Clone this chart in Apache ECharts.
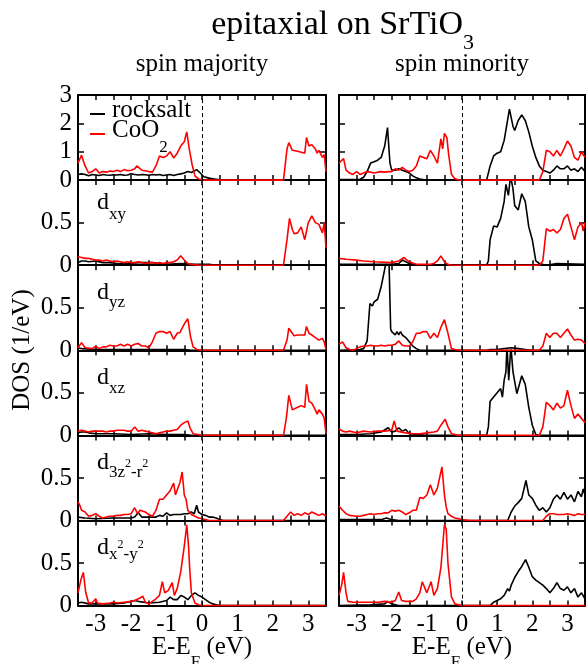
<!DOCTYPE html>
<html>
<head>
<meta charset="utf-8">
<script src="https://cdn.jsdelivr.net/npm/echarts@6/dist/echarts.min.js"></script>
<style>
  html, body { margin: 0; padding: 0; background: #fff; }
  #chart { width: 586px; height: 664px; }
</style>
</head>
<body>
<div id="chart"></div>
<script>
// energy ticks (eV) and DOS tick labels
const energyTicks = [-3, -2, -1, 0, 1, 2, 3]
const dosTicksTotal = [0, 1, 2, 3]
const dosTicksOrbital = [0, 0.5]

// [E-EF, DOS], rocksalt = black, CoO2 = red
// total, spin majority / minority
const rsTotMaj = [[-3.5,0.2],[-3.4,0.22],[-3.3,0.2],[-3.2,0.15],[-3.1,0.2],[-3.0,0.18],[-2.9,0.16],[-2.8,0.2],[-2.7,0.18],[-2.6,0.17],[-2.5,0.19],[-2.4,0.18],[-2.3,0.2],[-2.2,0.17],[-2.1,0.18],[-2.0,0.22],[-1.9,0.2],[-1.8,0.18],[-1.7,0.2],[-1.6,0.19],[-1.5,0.17],[-1.4,0.2],[-1.3,0.18],[-1.2,0.2],[-1.1,0.16],[-1.0,0.18],[-0.9,0.2],[-0.8,0.16],[-0.7,0.2],[-0.6,0.22],[-0.5,0.25],[-0.4,0.3],[-0.3,0.27],[-0.15,0.37],[-0.05,0.25],[0.05,0.12],[0.2,0.07],[0.3,0.05],[0.4,0.03],[0.5,0.01],[0.6,0],[3.5,0]]
const coTotMaj = [[-3.5,0.6],[-3.4,0.88],[-3.3,0.5],[-3.2,0.25],[-3.1,0.3],[-3.0,0.4],[-2.9,0.25],[-2.8,0.3],[-2.7,0.28],[-2.6,0.32],[-2.5,0.3],[-2.4,0.35],[-2.3,0.3],[-2.2,0.37],[-2.1,0.33],[-2.0,0.35],[-1.9,0.4],[-1.84,0.5],[-1.7,0.35],[-1.6,0.33],[-1.5,0.3],[-1.4,0.28],[-1.3,0.5],[-1.2,0.85],[-1.1,0.8],[-1.0,0.85],[-0.9,1.0],[-0.8,0.78],[-0.7,0.95],[-0.6,1.2],[-0.5,1.35],[-0.43,1.7],[-0.36,1.1],[-0.28,0.55],[-0.2,0.15],[-0.1,0.04],[0,0.01],[0.1,0],[2.3,0],[2.4,1.1],[2.45,1.32],[2.55,1.05],[2.6,1.0],[2.7,1.02],[2.8,0.98],[2.9,0.95],[2.95,1.5],[3.02,1.2],[3.1,1.25],[3.2,1.1],[3.25,0.95],[3.3,1.05],[3.4,0.8],[3.45,0.9],[3.5,0.3]]
const rsTotMin = [[-3.5,0.02],[-3.0,0.02],[-2.9,0.03],[-2.8,0.1],[-2.7,0.3],[-2.6,0.6],[-2.5,0.65],[-2.4,0.7],[-2.3,0.8],[-2.2,1.2],[-2.12,1.85],[-2.05,0.6],[-2.0,0.35],[-1.9,0.35],[-1.8,0.4],[-1.7,0.35],[-1.6,0.3],[-1.5,0.25],[-1.4,0.15],[-1.3,0.08],[-1.2,0.04],[-1.1,0.02],[-1.0,0.01],[-0.9,0],[0.7,0],[0.75,0.05],[0.8,0.5],[0.9,0.85],[1.0,0.95],[1.1,1.0],[1.2,1.4],[1.35,2.5],[1.45,1.9],[1.5,1.75],[1.6,2.1],[1.7,2.3],[1.8,2.1],[1.9,1.7],[2.0,1.2],[2.1,0.8],[2.2,0.5],[2.3,0.35],[2.4,0.3],[2.5,0.25],[2.6,0.35],[2.7,0.5],[2.8,0.4],[2.9,0.4],[3.0,0.5],[3.1,0.35],[3.2,0.4],[3.3,0.3],[3.4,0.45],[3.5,0.3]]
const coTotMin = [[-3.5,0.6],[-3.37,0.76],[-3.3,0.35],[-3.2,0.25],[-3.1,0.2],[-3.0,0.3],[-2.9,0.2],[-2.8,0.25],[-2.7,0.3],[-2.6,0.28],[-2.5,0.25],[-2.4,0.28],[-2.3,0.3],[-2.2,0.28],[-2.1,0.3],[-2.0,0.3],[-1.9,0.4],[-1.8,0.35],[-1.7,0.45],[-1.6,0.35],[-1.5,0.3],[-1.4,0.35],[-1.3,0.5],[-1.2,0.85],[-1.1,0.8],[-1.0,0.75],[-0.9,1.05],[-0.8,0.85],[-0.7,0.6],[-0.6,1.45],[-0.55,1.1],[-0.5,1.65],[-0.43,1.5],[-0.38,0.9],[-0.3,0.2],[-0.2,0.05],[-0.1,0.01],[0,0],[2.2,0],[2.3,0.3],[2.4,1.05],[2.5,1.0],[2.6,0.85],[2.7,1.05],[2.8,0.85],[2.9,1.1],[3.0,1.38],[3.1,1.2],[3.2,0.8],[3.3,0.7],[3.4,1.0],[3.5,0.8]]
// d_xy
const rsXyMaj = [[-3.5,0.03],[-3.4,0.05],[-3.3,0.05],[-3.2,0.04],[-3.0,0.05],[-2.8,0.03],[-2.6,0.03],[-2.4,0.02],[-2.2,0.02],[-2.0,0.02],[-1.8,0.03],[-1.6,0.03],[-1.4,0.03],[-1.2,0.02],[-1.0,0.01],[-0.6,0.02],[-0.2,0.01],[0.2,0.01],[0.4,0],[3.5,0]]
const coXyMaj = [[-3.5,0.1],[-3.4,0.09],[-3.3,0.08],[-3.2,0.08],[-3.1,0.07],[-3.0,0.06],[-2.9,0.06],[-2.8,0.05],[-2.7,0.06],[-2.6,0.05],[-2.5,0.04],[-2.4,0.05],[-2.3,0.04],[-2.2,0.03],[-2.1,0.04],[-2.0,0.03],[-1.9,0.03],[-1.8,0.04],[-1.7,0.03],[-1.6,0.02],[-1.5,0.03],[-1.4,0.03],[-1.3,0.02],[-1.2,0.03],[-1.1,0.02],[-1.0,0.03],[-0.9,0.03],[-0.8,0.04],[-0.7,0.06],[-0.6,0.11],[-0.5,0.06],[-0.4,0.02],[-0.3,0.01],[-0.1,0],[2.3,0],[2.4,0.3],[2.47,0.55],[2.55,0.42],[2.6,0.37],[2.7,0.38],[2.8,0.45],[2.9,0.3],[3.0,0.5],[3.1,0.58],[3.2,0.5],[3.3,0.48],[3.4,0.38],[3.45,0.5],[3.5,0.2]]
const rsXyMin = [[-3.5,0.01],[-2.0,0.01],[-1.8,0.02],[-1.7,0.06],[-1.6,0.04],[-1.5,0.02],[-1.4,0.01],[-1.3,0],[0.7,0],[0.75,0.05],[0.8,0.3],[0.9,0.46],[1.0,0.45],[1.1,0.55],[1.2,0.75],[1.25,0.95],[1.32,0.82],[1.38,1.05],[1.45,0.9],[1.5,0.7],[1.6,0.65],[1.7,0.84],[1.8,0.75],[1.9,0.45],[2.0,0.3],[2.1,0.05],[2.2,0.02],[2.4,0],[2.7,0.02],[3.5,0.01]]
const coXyMin = [[-3.5,0.08],[-3.3,0.07],[-3.0,0.06],[-2.8,0.05],[-2.5,0.04],[-2.0,0.03],[-1.8,0.05],[-1.65,0.09],[-1.5,0.04],[-1.3,0.01],[-0.9,0.01],[-0.8,0.02],[-0.7,0.05],[-0.6,0.11],[-0.5,0.04],[-0.4,0.01],[-0.3,0],[2.2,0],[2.3,0.05],[2.4,0.43],[2.5,0.4],[2.6,0.42],[2.7,0.38],[2.8,0.42],[2.9,0.55],[3.0,0.6],[3.1,0.45],[3.2,0.3],[3.3,0.45],[3.4,0.5],[3.45,0.4],[3.5,0.5]]
// d_yz
const rsYzMaj = [[-3.5,0.03],[-3.4,0.02],[-3.0,0.01],[-0.5,0.01],[-0.3,0],[3.5,0]]
const coYzMaj = [[-3.5,0.03],[-3.4,0.09],[-3.3,0.03],[-3.1,0.02],[-3.0,0.05],[-2.9,0.02],[-2.8,0.04],[-2.7,0.04],[-2.6,0.06],[-2.5,0.05],[-2.4,0.05],[-2.3,0.07],[-2.2,0.05],[-2.1,0.07],[-2.0,0.05],[-1.9,0.07],[-1.8,0.08],[-1.7,0.05],[-1.6,0.05],[-1.5,0.03],[-1.4,0.1],[-1.3,0.2],[-1.2,0.22],[-1.1,0.22],[-1.0,0.2],[-0.9,0.22],[-0.8,0.13],[-0.75,0.12],[-0.7,0.2],[-0.62,0.21],[-0.55,0.27],[-0.47,0.33],[-0.4,0.37],[-0.32,0.15],[-0.25,0.04],[-0.15,0.01],[0,0],[2.3,0],[2.4,0.12],[2.45,0.26],[2.55,0.2],[2.6,0.17],[2.7,0.18],[2.8,0.18],[2.9,0.18],[2.95,0.28],[3.02,0.2],[3.1,0.18],[3.2,0.15],[3.3,0.12],[3.4,0.14],[3.45,0.1],[3.5,0.01]]
const rsYzMin = [[-3.5,0],[-2.9,0.01],[-2.8,0.02],[-2.7,0.11],[-2.62,0.55],[-2.55,0.52],[-2.5,0.57],[-2.4,0.6],[-2.3,0.75],[-2.2,0.95],[-2.14,1.1],[-2.08,1.1],[-2.03,0.25],[-2.0,0.22],[-1.9,0.18],[-1.85,0.22],[-1.8,0.18],[-1.75,0.22],[-1.7,0.18],[-1.6,0.15],[-1.5,0.1],[-1.4,0.05],[-1.3,0.02],[-1.2,0],[0.7,0],[0.8,0.01],[1.0,0.01],[1.2,0.02],[1.4,0.03],[1.6,0.02],[1.8,0.01],[2.0,0],[3.5,0]]
const coYzMin = [[-3.5,0.07],[-3.4,0.1],[-3.3,0.03],[-3.2,0.01],[-3.1,0],[-3.0,0.02],[-2.9,0.04],[-2.8,0.05],[-2.7,0.05],[-2.6,0.06],[-2.5,0.05],[-2.4,0.05],[-2.3,0.06],[-2.2,0.05],[-2.1,0.06],[-2.0,0.06],[-1.9,0.07],[-1.8,0.11],[-1.7,0.06],[-1.6,0.05],[-1.5,0.05],[-1.4,0.1],[-1.3,0.2],[-1.2,0.2],[-1.1,0.22],[-1.0,0.22],[-0.9,0.14],[-0.8,0.2],[-0.7,0.15],[-0.6,0.27],[-0.5,0.36],[-0.45,0.37],[-0.4,0.2],[-0.3,0.02],[-0.2,0.01],[0,0],[2.2,0],[2.3,0.05],[2.4,0.2],[2.5,0.15],[2.6,0.2],[2.7,0.2],[2.8,0.15],[2.9,0.2],[3.0,0.25],[3.1,0.18],[3.2,0.12],[3.3,0.13],[3.4,0.12],[3.5,0.08]]
// d_xz
const rsXzMaj = [[-3.5,0.03],[-3.4,0.04],[-3.3,0.04],[-3.2,0.03],[-3.0,0.02],[-2.5,0.02],[-2.0,0.01],[-1.5,0.02],[-1.0,0.01],[-0.5,0.01],[-0.3,0],[3.5,0]]
const coXzMaj = [[-3.5,0.05],[-3.4,0.06],[-3.3,0.05],[-3.2,0.04],[-3.1,0.05],[-3.0,0.05],[-2.9,0.05],[-2.8,0.05],[-2.7,0.04],[-2.6,0.05],[-2.5,0.05],[-2.4,0.06],[-2.3,0.06],[-2.2,0.06],[-2.1,0.05],[-2.0,0.05],[-1.9,0.1],[-1.8,0.05],[-1.7,0.06],[-1.6,0.05],[-1.5,0.04],[-1.4,0.03],[-1.3,0.02],[-1.2,0.03],[-1.1,0.04],[-1.0,0.05],[-0.9,0.05],[-0.8,0.06],[-0.7,0.07],[-0.6,0.12],[-0.5,0.15],[-0.4,0.17],[-0.33,0.08],[-0.25,0.02],[-0.1,0.01],[0,0],[2.3,0],[2.38,0.2],[2.45,0.47],[2.55,0.3],[2.6,0.29],[2.7,0.33],[2.8,0.35],[2.9,0.33],[2.95,0.6],[3.02,0.4],[3.1,0.38],[3.2,0.3],[3.25,0.25],[3.3,0.3],[3.4,0.25],[3.45,0.2],[3.5,0.02]]
const rsXzMin = [[-3.5,0.01],[-3.0,0.01],[-2.6,0.02],[-2.3,0.04],[-2.1,0.09],[-2.0,0.04],[-1.9,0.05],[-1.8,0.09],[-1.7,0.05],[-1.6,0.07],[-1.5,0.02],[-1.3,0.01],[-1.0,0],[0.7,0],[0.75,0.1],[0.8,0.4],[0.9,0.45],[1.0,0.5],[1.1,0.55],[1.15,0.45],[1.2,0.65],[1.25,0.75],[1.28,1.05],[1.33,0.65],[1.39,1.05],[1.45,0.75],[1.56,0.49],[1.7,0.7],[1.8,0.6],[1.9,0.33],[2.0,0.12],[2.1,0.01],[2.2,0],[3.5,0]]
const coXzMin = [[-3.5,0.08],[-3.4,0.05],[-3.3,0.04],[-3.2,0.05],[-3.0,0.03],[-2.8,0.05],[-2.6,0.04],[-2.4,0.05],[-2.2,0.05],[-2.0,0.06],[-1.93,0.17],[-1.85,0.05],[-1.6,0.03],[-1.4,0.02],[-1.2,0.02],[-1.0,0.03],[-0.8,0.04],[-0.7,0.05],[-0.6,0.12],[-0.48,0.19],[-0.4,0.1],[-0.3,0.02],[-0.1,0],[2.2,0],[2.3,0.1],[2.4,0.39],[2.5,0.35],[2.6,0.3],[2.7,0.38],[2.8,0.32],[2.9,0.35],[3.0,0.53],[3.1,0.35],[3.2,0.2],[3.3,0.25],[3.4,0.2],[3.5,0.15]]
// d_3z2-r2
const rsZ2Maj = [[-3.5,0.04],[-3.3,0.03],[-3.0,0.02],[-2.5,0.03],[-2.0,0.03],[-1.9,0.04],[-1.8,0.09],[-1.7,0.04],[-1.5,0.04],[-1.3,0.04],[-1.2,0.06],[-1.1,0.05],[-1.0,0.09],[-0.9,0.06],[-0.8,0.07],[-0.6,0.07],[-0.5,0.08],[-0.4,0.08],[-0.3,0.1],[-0.22,0.08],[-0.15,0.18],[-0.1,0.1],[0,0.07],[0.1,0.06],[0.2,0.04],[0.3,0.04],[0.4,0.03],[0.5,0.01],[0.6,0],[3.5,0]]
const coZ2Maj = [[-3.5,0.22],[-3.45,0.18],[-3.4,0.12],[-3.3,0.1],[-3.2,0.05],[-3.1,0.06],[-3.0,0.08],[-2.9,0.05],[-2.8,0.03],[-2.7,0.04],[-2.6,0.05],[-2.5,0.05],[-2.4,0.06],[-2.3,0.06],[-2.2,0.07],[-2.1,0.07],[-2.0,0.08],[-1.9,0.15],[-1.82,0.08],[-1.75,0.12],[-1.6,0.1],[-1.5,0.07],[-1.4,0.05],[-1.3,0.12],[-1.2,0.25],[-1.1,0.25],[-1.0,0.3],[-0.9,0.35],[-0.8,0.44],[-0.75,0.3],[-0.7,0.32],[-0.62,0.45],[-0.56,0.57],[-0.5,0.3],[-0.45,0.25],[-0.4,0.12],[-0.3,0.07],[-0.2,0.05],[-0.1,0.03],[0,0.02],[0.1,0.01],[0.2,0],[2.3,0],[2.4,0.05],[2.5,0.1],[2.6,0.06],[2.7,0.08],[2.8,0.06],[2.9,0.09],[3.0,0.07],[3.1,0.1],[3.2,0.08],[3.3,0.06],[3.4,0.08],[3.5,0.05]]
const rsZ2Min = [[-3.5,0.01],[-2.3,0.01],[-2.15,0.03],[-2.0,0.01],[-1.8,0],[1.3,0],[1.4,0.1],[1.5,0.17],[1.6,0.21],[1.7,0.26],[1.82,0.47],[1.9,0.3],[2.0,0.26],[2.1,0.18],[2.2,0.12],[2.3,0.15],[2.4,0.1],[2.5,0.15],[2.6,0.25],[2.7,0.3],[2.8,0.25],[2.9,0.33],[3.0,0.25],[3.1,0.3],[3.2,0.22],[3.3,0.34],[3.4,0.28],[3.45,0.37],[3.5,0.3]]
const coZ2Min = [[-3.5,0.17],[-3.4,0.12],[-3.3,0.08],[-3.2,0.06],[-3.0,0.05],[-2.9,0.05],[-2.8,0.06],[-2.7,0.07],[-2.6,0.08],[-2.5,0.07],[-2.4,0.08],[-2.3,0.08],[-2.2,0.09],[-2.1,0.09],[-2.0,0.12],[-1.9,0.11],[-1.8,0.12],[-1.7,0.1],[-1.6,0.07],[-1.5,0.09],[-1.4,0.12],[-1.3,0.12],[-1.2,0.27],[-1.1,0.26],[-1.0,0.3],[-0.9,0.42],[-0.8,0.3],[-0.7,0.38],[-0.57,0.63],[-0.5,0.3],[-0.45,0.16],[-0.4,0.08],[-0.3,0.05],[-0.2,0.03],[-0.1,0.02],[0,0.01],[0.2,0],[2.3,0],[2.4,0.05],[2.5,0.08],[2.6,0.08],[2.7,0.07],[2.8,0.07],[2.9,0.07],[3.0,0.08],[3.1,0.07],[3.2,0.06],[3.3,0.08],[3.4,0.07],[3.5,0.07]]
// d_x2-y2
const rsX2Maj = [[-3.5,0.03],[-3.4,0.04],[-3.2,0.02],[-2.5,0.02],[-2.2,0.03],[-1.9,0.06],[-1.8,0.05],[-1.5,0.03],[-1.2,0.04],[-1.0,0.06],[-0.9,0.1],[-0.8,0.07],[-0.7,0.07],[-0.6,0.12],[-0.5,0.1],[-0.4,0.07],[-0.3,0.12],[-0.2,0.15],[-0.15,0.17],[-0.1,0.12],[0,0.1],[0.1,0.07],[0.2,0.04],[0.3,0.02],[0.4,0.01],[0.5,0],[3.5,0]]
const coX2Maj = [[-3.5,0.15],[-3.42,0.3],[-3.35,0.39],[-3.28,0.15],[-3.2,0.03],[-3.1,0.03],[-3.0,0.08],[-2.95,0.03],[-2.8,0.02],[-2.6,0.03],[-2.5,0.04],[-2.4,0.03],[-2.2,0.04],[-2.0,0.05],[-1.9,0.06],[-1.75,0.09],[-1.67,0.11],[-1.6,0.04],[-1.5,0.02],[-1.4,0.05],[-1.3,0.08],[-1.2,0.12],[-1.12,0.28],[-1.05,0.15],[-0.95,0.18],[-0.84,0.27],[-0.78,0.12],[-0.7,0.2],[-0.6,0.4],[-0.5,0.7],[-0.43,0.95],[-0.38,0.7],[-0.35,0.45],[-0.3,0.15],[-0.2,0.03],[-0.1,0.01],[0,0],[3.5,0]]
const rsX2Min = [[-3.5,0],[-2.6,0.01],[-2.2,0.02],[-2.12,0.05],[-2.0,0.02],[-1.9,0.01],[-1.8,0],[0.8,0],[0.9,0.04],[1.0,0.06],[1.1,0.08],[1.2,0.12],[1.3,0.2],[1.35,0.17],[1.4,0.24],[1.5,0.33],[1.6,0.4],[1.7,0.46],[1.81,0.54],[1.9,0.45],[2.0,0.34],[2.1,0.3],[2.2,0.27],[2.3,0.24],[2.4,0.2],[2.5,0.15],[2.6,0.2],[2.7,0.27],[2.8,0.2],[2.9,0.18],[3.0,0.22],[3.1,0.15],[3.2,0.2],[3.3,0.1],[3.4,0.15],[3.5,0.08]]
const coX2Min = [[-3.5,0.12],[-3.42,0.25],[-3.37,0.39],[-3.3,0.15],[-3.25,0.05],[-3.1,0.04],[-3.0,0.04],[-2.8,0.04],[-2.6,0.04],[-2.4,0.04],[-2.2,0.05],[-2.0,0.04],[-1.9,0.06],[-1.8,0.16],[-1.72,0.06],[-1.6,0.05],[-1.4,0.05],[-1.3,0.08],[-1.2,0.15],[-1.13,0.28],[-1.05,0.2],[-1.0,0.15],[-0.88,0.28],[-0.8,0.12],[-0.7,0.2],[-0.6,0.45],[-0.5,0.95],[-0.45,0.9],[-0.4,0.5],[-0.3,0.1],[-0.2,0.02],[-0.1,0.01],[0,0],[3.5,0]]

const FONT = "'Liberation Serif', 'Times New Roman', serif"
const rowTops = [95, 180.1, 265.2, 350.3, 435.4, 520.5]
const rowHeight = 85.1
const colLeft = [78, 339]
const colWidth = [248, 246]
const colCenter = [202, 462]

// each row: [majority pair, minority pair], y range, label
const rows = [
    {maj: [rsTotMaj, coTotMaj], min: [rsTotMin, coTotMin], yMax: 3, yStep: 1, ticks: dosTicksTotal, label: null},
    {maj: [rsXyMaj, coXyMaj], min: [rsXyMin, coXyMin], yMax: 1, yStep: 0.5, ticks: dosTicksOrbital,
        label: {dy: 30, parts: [['d', 24, 0], ['xy', 17, -10]]}},
    {maj: [rsYzMaj, coYzMaj], min: [rsYzMin, coYzMin], yMax: 1, yStep: 0.5, ticks: dosTicksOrbital,
        label: {dy: 35, parts: [['d', 24, 0], ['yz', 17, -7]]}},
    {maj: [rsXzMaj, coXzMaj], min: [rsXzMin, coXzMin], yMax: 1, yStep: 0.5, ticks: dosTicksOrbital,
        label: {dy: 35, parts: [['d', 24, 0], ['xz', 17, -8]]}},
    {maj: [rsZ2Maj, coZ2Maj], min: [rsZ2Min, coZ2Min], yMax: 1, yStep: 0.5, ticks: dosTicksOrbital,
        label: {dy: 35, parts: [['d', 24, 0], ['3z', 17, -7.5], ['2', 12, 2.5], ['-r', 17, -7.5], ['2', 12, 2.5]]}},
    {maj: [rsX2Maj, coX2Maj], min: [rsX2Min, coX2Min], yMax: 1, yStep: 0.5, ticks: dosTicksOrbital,
        label: {dy: 34.5, parts: [['d', 24, 0], ['x', 17, -4.5], ['2', 12, 6.7], ['-y', 17, -4.5], ['2', 12, 6.7]]}}
]

// text measuring so sub/superscripts can be placed piece by piece
const measureCtx = document.createElement('canvas').getContext('2d')
function textWidth(t, size) {
    measureCtx.font = size + 'px ' + FONT
    return measureCtx.measureText(t).width
}
function runWidth(parts) {
    return parts.reduce((w, p) => w + textWidth(p[0], p[1]), 0)
}
function textRun(x, baseline, parts) {
    let out = []
    parts.forEach(([t, size, rise]) => {
        out.push({
            type: 'text', x: x, y: baseline - rise - 0.3 * size, silent: true, z: 100,
            style: {text: t, font: size + 'px ' + FONT, fill: '#000', align: 'left', verticalAlign: 'middle'}
        })
        x += textWidth(t, size)
    })
    return out
}

let grid = [], xAxis = [], yAxis = [], series = [], graphic = []

function xAx(p, pos, labels) {
    return {
        gridIndex: p, type: 'value', position: pos, min: -3.5, max: 3.5, interval: 0.5,
        axisLine: {show: true, onZero: false, lineStyle: {color: '#000', width: 2}},
        axisTick: {show: true, inside: true, length: 5, lineStyle: {color: '#000', width: 1.5}},
        axisLabel: {
            show: labels, margin: 6, fontSize: 25, fontFamily: FONT, color: '#000',
            formatter: v => energyTicks.includes(Math.round(v * 10) / 10) ? String(Math.round(v)) : ''
        },
        splitLine: {show: false}
    }
}
function yAx(p, pos, labels, r) {
    return {
        gridIndex: p, type: 'value', position: pos, min: 0, max: r.yMax, interval: r.yStep,
        axisLine: {show: true, onZero: false, lineStyle: {color: '#000', width: 2}},
        axisTick: {show: true, inside: true, length: 6, lineStyle: {color: '#000', width: 1.5}},
        axisLabel: {
            show: labels, margin: 6, fontSize: 25, fontFamily: FONT, color: '#000',
            formatter: v => r.ticks.includes(v) ? String(v) : ''
        },
        splitLine: {show: false}
    }
}
function dosLine(p, name, data, color, withZero) {
    let s = {
        name: name, type: 'line', xAxisIndex: 2 * p, yAxisIndex: 2 * p, data: data,
        showSymbol: false, symbol: 'none', clip: true, z: color === '#000' ? 2 : 3,
        lineStyle: {color: color, width: 1.6}, itemStyle: {color: color}
    }
    if (withZero) {
        s.markLine = {
            silent: true, symbol: ['none', 'none'], label: {show: false},
            lineStyle: {color: '#000', type: [4, 3], width: 1},
            data: [{xAxis: 0}]
        }
    }
    return s
}

rows.forEach((r, ri) => {
    [r.maj, r.min].forEach((pair, ci) => {
        let p = ri * 2 + ci
        grid.push({left: colLeft[ci], top: rowTops[ri], width: colWidth[ci], height: rowHeight, containLabel: false, outerBoundsMode: 'none'})
        xAxis.push(xAx(p, 'bottom', ri === rows.length - 1), xAx(p, 'top', false))
        yAxis.push(yAx(p, 'left', ci === 0, r), yAx(p, 'right', false, r))
        series.push(dosLine(p, 'rocksalt', pair[0], '#000', true), dosLine(p, 'CoO2', pair[1], '#ff0000', false))
    })
    if (r.label) {
        graphic.push(...textRun(97, rowTops[ri] + r.label.dy, r.label.parts))
    }
})

// title, column titles, axis titles
let titleParts = [['epitaxial on SrTiO', 34, 0], ['3', 22, -15]]
graphic.push(...textRun(463 - textWidth('epitaxial on SrTiO', 34), 35, titleParts))
;['spin majority', 'spin minority'].forEach((t, ci) => {
    graphic.push(...textRun(colCenter[ci] - textWidth(t, 25) / 2, 72, [[t, 25, 0]]))
})
let xTitle = [['E-E', 25, 0], ['F', 17, -13], [' (eV)', 25, 0]]
colCenter.forEach(c => {
    graphic.push(...textRun(c - runWidth(xTitle) / 2, 655, xTitle))
})
graphic.push({
    type: 'text', x: 22, y: 350, rotation: Math.PI / 2, silent: true, z: 100,
    style: {text: 'DOS (1/eV)', font: '25px ' + FONT, fill: '#000', align: 'center', verticalAlign: 'middle'}
})

// legend inside the top left panel
graphic.push(
    {type: 'line', shape: {x1: 90, y1: 114, x2: 105, y2: 114}, style: {stroke: '#000', lineWidth: 2}, z: 100},
    {type: 'line', shape: {x1: 90, y1: 134, x2: 105, y2: 134}, style: {stroke: '#ff0000', lineWidth: 2}, z: 100}
)
graphic.push(...textRun(112, 118, [['rocksalt', 25, 0]]))
graphic.push(...textRun(112, 138, [['CoO', 25, 0], ['2', 17, -15]]))

let chart = echarts.init(document.getElementById('chart'), null, {renderer: 'canvas'})
chart.setOption({
    animation: false,
    backgroundColor: '#fff',
    grid: grid,
    xAxis: xAxis,
    yAxis: yAxis,
    series: series,
    graphic: graphic
})
</script>
</body>
</html>
